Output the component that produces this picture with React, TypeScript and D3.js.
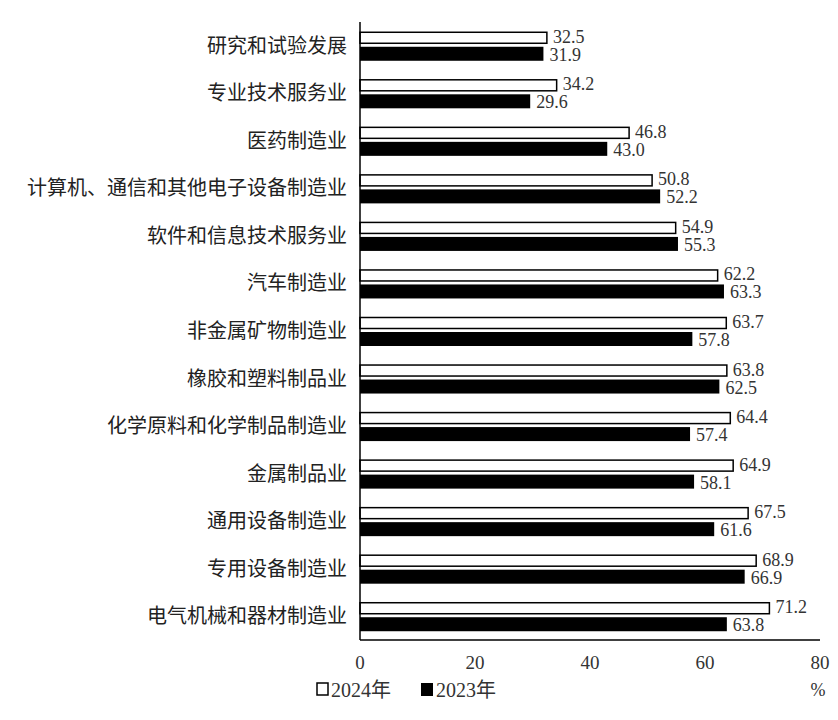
import * as d3 from "d3";

const categories = [
  "研究和试验发展",
  "专业技术服务业",
  "医药制造业",
  "计算机、通信和其他电子设备制造业",
  "软件和信息技术服务业",
  "汽车制造业",
  "非金属矿物制造业",
  "橡胶和塑料制品业",
  "化学原料和化学制品制造业",
  "金属制品业",
  "通用设备制造业",
  "专用设备制造业",
  "电气机械和器材制造业",
];
const values2024 = [32.5, 34.2, 46.8, 50.8, 54.9, 62.2, 63.7, 63.8, 64.4, 64.9, 67.5, 68.9, 71.2];
const values2023 = [31.9, 29.6, 43.0, 52.2, 55.3, 63.3, 57.8, 62.5, 57.4, 58.1, 61.6, 66.9, 63.8];
const xTicks = [0, 20, 40, 60, 80];
const seriesNames = ["2024年", "2023年"];

const width = 838;
const height = 720;
const font = '"Liberation Serif", "Times New Roman", "Noto Sans CJK SC", serif';

export default function App() {
  const x = d3.scaleLinear().domain([0, 80]).range([360, 820]);
  const y = d3.scaleBand<string>().domain(categories).range([22, 640]);
  const bottom = 640;

  return (
    <svg
      width={width}
      height={height}
      style={{ position: "absolute", left: 0, top: 0, background: "#fff" }}
      fontFamily={font}
    >
      {categories.map((c, i) => {
        const cy = (y(c) ?? 0) + y.bandwidth() / 2;
        return (
          <g key={c}>
            <text x={347} y={cy} textAnchor="end" dominantBaseline="central" fontSize={20} fill="#222">
              {c}
            </text>
            <rect
              x={x(0)}
              y={cy - 13.5}
              width={x(values2024[i]) - x(0)}
              height={11}
              fill="#fff"
              stroke="#000"
              strokeWidth={1.5}
            />
            <rect x={x(0)} y={cy + 1} width={x(values2023[i]) - x(0)} height={14} fill="#000" />
            <text x={x(values2024[i]) + 6} y={cy - 9} dominantBaseline="central" fontSize={18} fill="#333">
              {values2024[i].toFixed(1)}
            </text>
            <text x={x(values2023[i]) + 6} y={cy + 9} dominantBaseline="central" fontSize={18} fill="#333">
              {values2023[i].toFixed(1)}
            </text>
          </g>
        );
      })}
      <line x1={x(0)} x2={x(0)} y1={22} y2={bottom} stroke="#000" strokeWidth={1.5} />
      <line x1={x(0)} x2={x(80)} y1={bottom} y2={bottom} stroke="#000" strokeWidth={1.5} />
      {xTicks.map((t) => (
        <text key={t} x={x(t)} y={662} textAnchor="middle" dominantBaseline="central" fontSize={19} fill="#333">
          {t}
        </text>
      ))}
      <text x={818} y={690} textAnchor="middle" dominantBaseline="central" fontSize={18} fill="#333">
        %
      </text>
      <g>
        <rect x={317} y={683} width={11} height={12} fill="#fff" stroke="#000" strokeWidth={1.5} />
        <text x={331} y={690} dominantBaseline="central" fontSize={20} fill="#333">
          {seriesNames[0]}
        </text>
        <rect x={421} y={683} width={12} height={13} fill="#000" />
        <text x={436} y={690} dominantBaseline="central" fontSize={20} fill="#333">
          {seriesNames[1]}
        </text>
      </g>
    </svg>
  );
}
